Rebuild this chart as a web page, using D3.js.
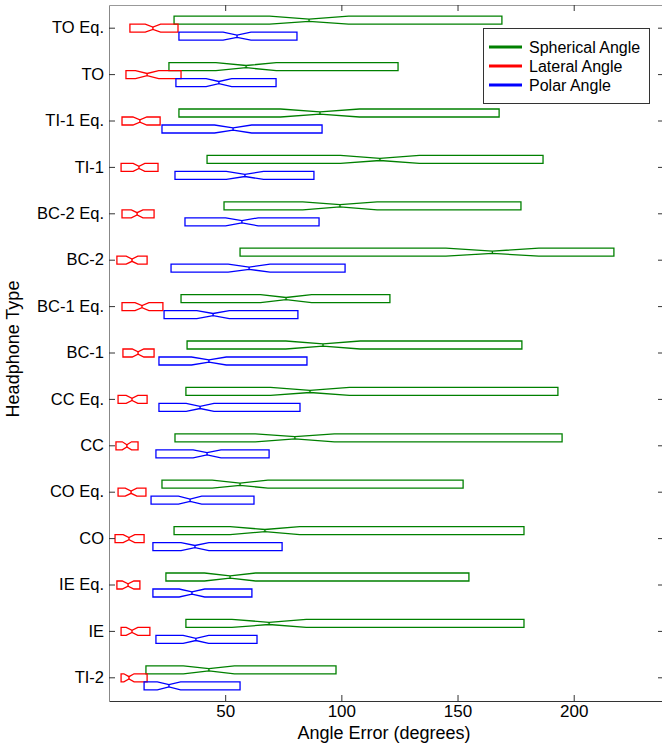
<!DOCTYPE html>
<html><head><meta charset="utf-8">
<script src="https://cdn.jsdelivr.net/npm/d3@7"></script>
<style>body{margin:0;background:#fff}svg{display:block}text{font-family:"Liberation Sans",Arial,sans-serif}</style>
</head><body><div id="chart"></div>
<script>
// Categories, top to bottom
const categories = ["TO Eq.","TO","TI-1 Eq.","TI-1","BC-2 Eq.","BC-2","BC-1 Eq.","BC-1","CC Eq.","CC","CO Eq.","CO","IE Eq.","IE","TI-2"];
const seriesNames = ["Spherical Angle","Lateral Angle","Polar Angle"];
const xTicks = [50,100,150,200];

// Spherical angle: q1, median, q3, notch half-width
const sphQ1  = [28.0,25.8,30.1,42.2,49.5,56.4,31.0,33.6,33.1,28.4,22.8,28.0,24.5,33.1,15.9];
const sphMed = [86.1,59.0,90.8,116.6,99.4,165.0,76.2,92.1,86.5,80.0,56.4,67.1,52.1,68.9,43.0];
const sphQ3  = [169.1,124.4,167.9,186.8,177.3,217.3,120.9,177.7,193.2,195.0,152.4,178.6,154.9,178.6,97.7];
const sphNotch = [17,13,17,17,16,20,11,16,17,17,12,15,11,16,11];
// Lateral angle
const latQ1  = [9.0,7.3,5.6,5.2,5.6,3.4,5.6,6.0,3.9,3.0,3.9,2.6,3.4,5.2,5.2];
const latMed = [18.9,16.4,13.3,12.9,12.1,9.9,14.2,12.5,9.9,7.7,9.5,8.6,8.2,9.9,8.6];
const latQ3  = [29.7,31.0,22.0,21.1,19.4,16.4,23.2,19.4,16.4,12.5,15.9,15.1,13.3,17.6,16.4];
const latNotch = [3.3,5,3,2.5,2.5,2.5,3,2.5,2.5,2,2.5,2.5,2.5,2.5,2.2];
// Polar angle
const polQ1  = [30.1,28.8,22.8,28.4,32.7,26.7,23.7,21.5,21.5,20.2,18.1,18.9,18.9,20.2,15.1];
const polMed = [55.1,47.3,53.4,58.5,57.2,60.3,44.8,43.0,39.2,42.2,34.9,37.0,35.7,37.4,25.8];
const polQ3  = [80.9,71.9,91.7,88.2,90.4,101.6,81.3,85.2,82.2,68.9,62.4,74.5,61.5,63.7,56.4];
const polNotch = [6,5.5,8,8,7,9,7,7.5,6,6,5,6,5.5,5.5,5];

const colors = ["#008000","#ff0000","#0000ff"];

const W = 662, H = 746;
const L = 109, R = 662, T = 5, B = 701;
const svg = d3.select("#chart").append("svg").attr("width",W).attr("height",H);

const x = d3.scaleLinear().domain([0,238]).range([L,R]);
const y = d3.scaleBand().domain(categories).range([T,B]).padding(0);
const inner = d3.scaleBand().domain(seriesNames).range([-12,12]).padding(0);

const series = [
  {name:seriesNames[0], q1:sphQ1, med:sphMed, q3:sphQ3, n:sphNotch},
  {name:seriesNames[1], q1:latQ1, med:latMed, q3:latQ3, n:latNotch},
  {name:seriesNames[2], q1:polQ1, med:polMed, q3:polQ3, n:polNotch}
];

const g = svg.append("g");
series.forEach((s,si)=>{
  categories.forEach((c,ci)=>{
    const cy = y(c) + y.bandwidth()/2;
    const top = cy + inner(s.name), bot = top + inner.bandwidth();
    const d = inner.bandwidth()*0.36;
    const q1 = x(s.q1[ci]), q3 = x(s.q3[ci]), m = x(s.med[ci]);
    const nl = x(s.med[ci]-s.n[ci]), nh = x(s.med[ci]+s.n[ci]);
    const p = d3.path();
    p.moveTo(q1,top); p.lineTo(nl,top); p.lineTo(m,top+d); p.lineTo(nh,top); p.lineTo(q3,top);
    p.lineTo(q3,bot); p.lineTo(nh,bot); p.lineTo(m,bot-d); p.lineTo(nl,bot); p.lineTo(q1,bot); p.closePath();
    g.append("path").attr("d",p.toString()).attr("fill","none").attr("stroke",colors[si]).attr("stroke-width",1.3);
    g.append("line").attr("x1",m).attr("x2",m).attr("y1",top+d).attr("y2",bot-d).attr("stroke",colors[si]).attr("stroke-width",1.3);
  });
});

// Axes
const axB = svg.append("g").attr("transform",`translate(0,${B})`)
  .call(d3.axisBottom(x).tickValues(xTicks).tickSizeInner(-6).tickSizeOuter(0).tickPadding(4));
const axT = svg.append("g").attr("transform",`translate(0,${T})`)
  .call(d3.axisTop(x).tickValues(xTicks).tickSizeInner(-6).tickSizeOuter(0).tickFormat(""));
const axL = svg.append("g").attr("transform",`translate(${L},0)`)
  .call(d3.axisLeft(y).tickSizeInner(-6).tickSizeOuter(0).tickPadding(5));
const axR = svg.append("g").attr("transform",`translate(${R},0)`)
  .call(d3.axisRight(y).tickSizeInner(-4).tickSizeOuter(0).tickFormat(""));
[axB,axT,axL,axR].forEach(a=>{
  a.selectAll("text").attr("fill","#000").attr("font-family","'Liberation Sans',Arial,sans-serif");
  a.selectAll("line").attr("stroke","#333");
});
axB.selectAll("text").attr("font-size",17);
axL.selectAll("text").attr("font-size",16.5);
axB.select(".domain").attr("stroke","#333");
axT.select(".domain").attr("stroke","#999");
axL.select(".domain").attr("stroke","#888");
axR.select(".domain").attr("stroke","#888");

// Axis titles
svg.append("text").attr("x",384).attr("y",739).attr("text-anchor","middle").attr("font-size",18).text("Angle Error (degrees)");
svg.append("text").attr("transform","translate(19,349) rotate(-90)").attr("text-anchor","middle").attr("font-size",18).text("Headphone Type");

// Legend
const lg = svg.append("g");
lg.append("rect").attr("x",483.5).attr("y",28.5).attr("width",166).attr("height",75).attr("fill","#fff").attr("stroke","#333").attr("stroke-width",1);
seriesNames.forEach((n,i)=>{
  const ly = 47 + i*19;
  lg.append("line").attr("x1",489).attr("x2",522).attr("y1",ly).attr("y2",ly).attr("stroke",colors[i]).attr("stroke-width",3);
  lg.append("text").attr("x",529).attr("y",ly+5.5).attr("font-size",16).text(n);
});
</script></body></html>
